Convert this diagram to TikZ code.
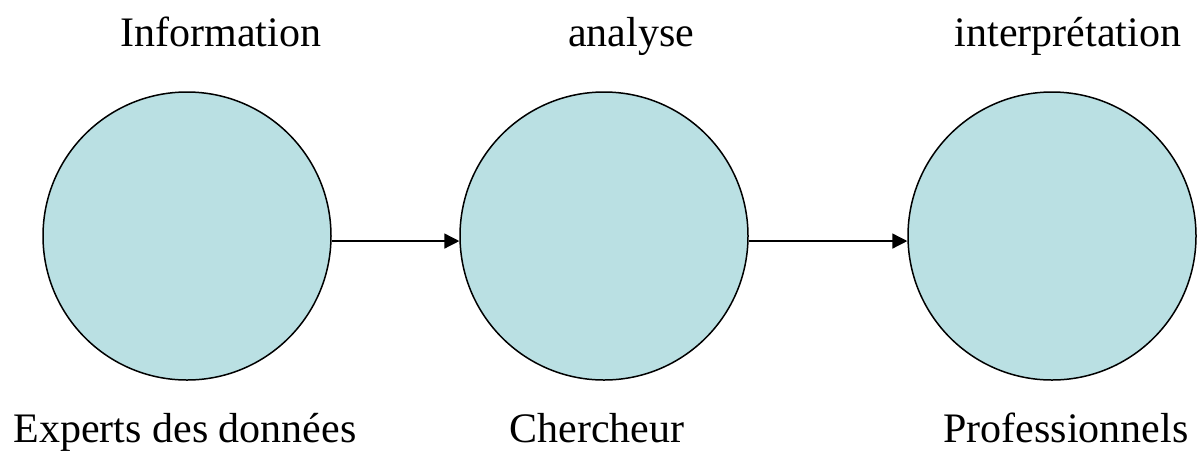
\documentclass[tikz,border=0pt]{standalone}
\usepackage{fontspec}
\setmainfont{Liberation Serif}
\usetikzlibrary{arrows.meta}
\definecolor{circfill}{RGB}{186,224,227}
\begin{document}
\begin{tikzpicture}[x=1pt,y=-1pt,
  actor/.style={circle,draw=black,line width=1.5pt,fill=circfill,minimum size=288pt,inner sep=0pt},
  lbl/.style={anchor=base,font=\fontsize{42}{48}\selectfont,inner sep=0pt},
  flow/.style={line width=1.4pt,-{Triangle[length=15pt,width=15pt]}}]
\useasboundingbox (0,0) rectangle (1201,451);
\node[actor] (c1) at (187,236) {};
\node[actor] (c2) at (604,236) {};
\node[actor] (c3) at (1052,236) {};
\node[lbl] (t1) at (221,46) {Information};
\node[lbl] (t2) at (631,46) {analyse};
\node[lbl] (t3) at (1068,46) {interprétation};
\node[lbl] (b1) at (185,442) {Experts des données};
\node[lbl] (b2) at (597,442) {Chercheur};
\node[lbl] (b3) at (1066,442) {Professionnels};
\draw[flow] (c1.-2) -- (c2.182);
\draw[flow] (c2.-2) -- (c3.182);
\end{tikzpicture}
\end{document}
